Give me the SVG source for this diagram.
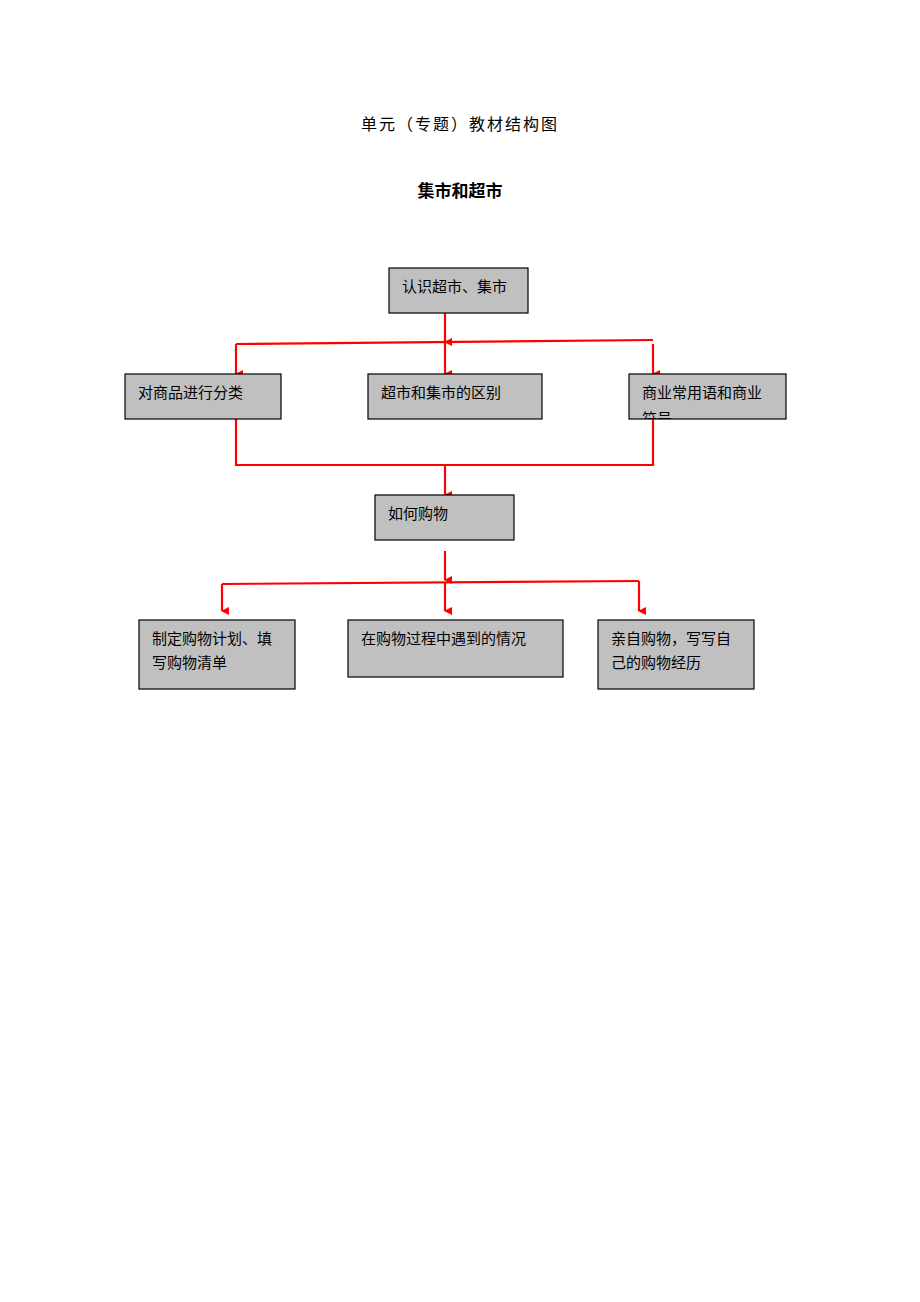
<svg xmlns="http://www.w3.org/2000/svg" width="920" height="1302" viewBox="0 0 920 1302">
<style>
.b{fill:#c0c0c0;stroke:#000;stroke-width:1.2}
.t{font-family:"Liberation Serif","Noto Sans CJK SC",serif;font-size:15px;fill:#000}
.c{stroke:#f00;stroke-width:2.2;fill:none}
</style>
<defs>
<marker id="a" markerWidth="8" markerHeight="8" refX="4" refY="7" orient="auto" markerUnits="userSpaceOnUse"><path d="M0,0 L8,0 L4,8 Z" fill="#f00"/></marker>
<clipPath id="cp"><rect x="629" y="374" width="157" height="45"/></clipPath>
</defs>
<rect width="920" height="1302" fill="#fff"/>
<text x="460" y="130" text-anchor="middle" class="t" style="font-size:16px;letter-spacing:2px">单元（专题）教材结构图</text>
<text x="460" y="197" text-anchor="middle" class="t" style="font-size:17px;font-weight:bold">集市和超市</text>
<g id="connectors">
<path class="c" d="M445,313 V342" marker-end="url(#a)"/>
<path class="c" d="M236,344 L653,340"/>
<path class="c" d="M236,344 V374" marker-end="url(#a)"/>
<path class="c" d="M445,342 V374" marker-end="url(#a)"/>
<path class="c" d="M653,344 V374" marker-end="url(#a)"/>
<path class="c" d="M236,419 V465 H653 V419"/>
<path class="c" d="M445,465 V495" marker-end="url(#a)"/>
<path class="c" d="M445,551 V580" marker-end="url(#a)"/>
<path class="c" d="M222,584 L639,581"/>
<path class="c" d="M222,584 V611" marker-end="url(#a)"/>
<path class="c" d="M445,583 V611" marker-end="url(#a)"/>
<path class="c" d="M639,581 V611" marker-end="url(#a)"/>
</g>
<g id="n1"><rect class="b" x="389" y="268" width="139" height="45"/><text class="t" x="402" y="292">认识超市、集市</text></g>
<g id="n2"><rect class="b" x="125" y="374" width="156" height="45"/><text class="t" x="138" y="398">对商品进行分类</text></g>
<g id="n3"><rect class="b" x="368" y="374" width="174" height="45"/><text class="t" x="381" y="398">超市和集市的区别</text></g>
<g id="n4"><rect class="b" x="629" y="374" width="157" height="45"/><g clip-path="url(#cp)"><text class="t" x="642" y="398">商业常用语和商业</text><text class="t" x="642" y="424">符号</text></g></g>
<g id="n5"><rect class="b" x="375" y="495" width="139" height="45"/><text class="t" x="388" y="519">如何购物</text></g>
<g id="n6"><rect class="b" x="139" y="620" width="156" height="69"/><text class="t" x="152" y="644">制定购物计划、填</text><text class="t" x="152" y="668">写购物清单</text></g>
<g id="n7"><rect class="b" x="348" y="620" width="215" height="57"/><text class="t" x="361" y="644">在购物过程中遇到的情况</text></g>
<g id="n8"><rect class="b" x="598" y="620" width="156" height="69"/><text class="t" x="611" y="644">亲自购物，写写自</text><text class="t" x="611" y="668">己的购物经历</text></g>
</svg>
